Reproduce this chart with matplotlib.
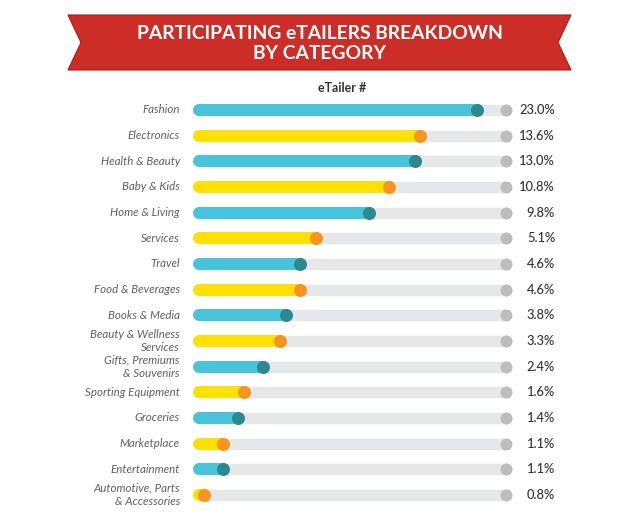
import numpy as np
import matplotlib.pyplot as plt
from matplotlib.patches import Polygon
from matplotlib.transforms import Affine2D

# categories, shares and how far each coloured bar reaches along its track
categories = ["Fashion", "Electronics", "Health & Beauty", "Baby & Kids",
              "Home & Living", "Services", "Travel", "Food & Beverages",
              "Books & Media", "Beauty & Wellness\nServices",
              "Gifts, Premiums\n& Souvenirs", "Sporting Equipment",
              "Groceries", "Marketplace", "Entertainment",
              "Automotive, Parts\n& Accessories"]
shares = [23.0, 13.6, 13.0, 10.8, 9.8, 5.1, 4.6, 4.6, 3.8, 3.3, 2.4, 1.6,
          1.4, 1.1, 1.1, 0.8]
bar_fill = [0.905, 0.72, 0.704, 0.619, 0.554, 0.381, 0.329, 0.329, 0.283,
            0.264, 0.208, 0.147, 0.127, 0.078, 0.078, 0.016]

cyan, teal = "#47C4DA", "#2A8A8F"
yellow, orange = "#FFE000", "#F7941D"
track, knob = "#E6E7E8", "#BDBDBD"

plt.rcParams['font.family'] = ['Lato', 'DejaVu Sans']

W, H = 640, 525
fig = plt.figure(figsize=(W / 100, H / 100), dpi=100)

# ribbon banner, drawn in pixel coords (y measured from the top)
band = Polygon([(68, 15), (571, 15), (558, 42.5), (571, 70), (68, 70), (81, 42.5)],
               closed=True, facecolor="#CC2E27", edgecolor="#A51E1A", lw=0.8,
               transform=Affine2D().scale(1, -1).translate(0, H))
fig.patches.append(band)
fig.text(320 / W, 1 - 43.5 / H, "PARTICIPATING eTAILERS BREAKDOWN\nBY CATEGORY",
         ha="center", va="center", color="white", fontsize=13.9,
         fontweight="bold", linespacing=1.15)

# bar area: x 0..1 maps track start cap centre to grey knob centre
x0, x1 = 199, 506
yt, yb = 110, 495
step = (yb - yt) / (len(categories) - 1)
ax = fig.add_axes([x0 / W, 1 - (yb + step / 2) / H, (x1 - x0) / W,
                   (yb - yt + step) / H])
ax.set_xlim(0, 1)
ax.set_ylim(len(categories) - 0.5, -0.5)
ax.axis("off")

lw = 12 * 0.72
for i, (cat, s, f) in enumerate(zip(categories, shares, bar_fill)):
    fc, dc = (cyan, teal) if i % 2 == 0 else (yellow, orange)
    ax.plot([0, 1], [i, i], color=track, lw=lw * 0.95, solid_capstyle="round",
            clip_on=False, zorder=1)
    ax.scatter([1], [i], s=75, color=knob, zorder=2, clip_on=False, lw=0)
    ax.plot([0, f], [i, i], color=fc, lw=lw, solid_capstyle="round",
            clip_on=False, zorder=3)
    ax.scatter([f], [i], s=88, color=dc, zorder=4, clip_on=False, lw=0)
    ax.text(-0.062, i, cat, ha="right", va="center", fontsize=8.3,
            style="italic", color="#5f5f5f", linespacing=1.3)
    ax.text(1.16, i, f"{s:.1f}%", ha="right", va="center", fontsize=9.3,
            color="#333333", fontweight="medium")

ax.text(0.466, -0.85, "eTailer #", ha="center", va="center", fontsize=9,
        fontweight="bold", color="#333333")

fig.savefig("out.png", dpi=100)
